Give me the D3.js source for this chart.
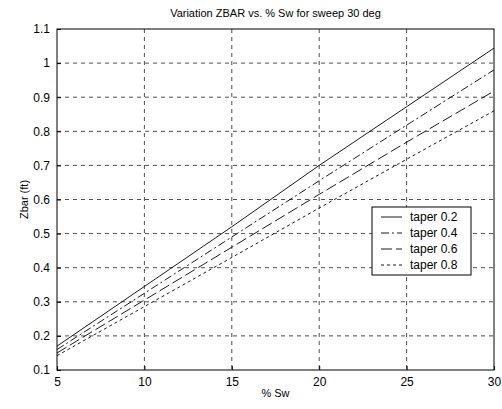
<!DOCTYPE html>
<html>
<head>
<meta charset="utf-8">
<script src="https://cdn.jsdelivr.net/npm/d3@7"></script>
<style>
  body { margin: 0; background: #fff; }
  text { font-family: "Liberation Sans", Arial, sans-serif; fill: #000; }
</style>
</head>
<body>
<svg width="502" height="409"></svg>
<script>
// dữ liệu
const sweepPct = [5, 10, 15, 20, 25, 30];
const taper02 = [0.170, 0.345, 0.520, 0.700, 0.872, 1.044];
const taper04 = [0.160, 0.325, 0.490, 0.655, 0.818, 0.980];
const taper06 = [0.150, 0.305, 0.460, 0.615, 0.768, 0.918];
const taper08 = [0.142, 0.286, 0.430, 0.575, 0.718, 0.860];
const seriesNames = ["taper 0.2", "taper 0.4", "taper 0.6", "taper 0.8"];
const xTicks = [5, 10, 15, 20, 25, 30];
const yTicks = [0.1, 0.2, 0.3, 0.4, 0.5, 0.6, 0.7, 0.8, 0.9, 1, 1.1];

const series = [taper02, taper04, taper06, taper08].map((vals, i) => ({
    name: seriesNames[i],
    values: vals.map((v, j) => ({ x: sweepPct[j], y: v }))
}));
const dashes = [null, "8,3,2,3", "11,4", "3,3"];

const margin = { top: 29, right: 8, bottom: 39, left: 57 };
const width = 502 - margin.left - margin.right;
const height = 409 - margin.top - margin.bottom;

const svg = d3.select("svg")
    .append("g")
    .attr("transform", `translate(${margin.left},${margin.top})`);

const x = d3.scaleLinear().domain([5, 30]).range([0, width]);
const y = d3.scaleLinear().domain([0.1, 1.1]).range([height, 0]);

// lưới
svg.append("g").selectAll("line")
    .data(xTicks.slice(1, -1)).enter().append("line")
    .attr("x1", d => x(d)).attr("x2", d => x(d))
    .attr("y1", 0).attr("y2", height)
    .attr("stroke", "#222").attr("stroke-width", 0.8)
    .attr("stroke-dasharray", "4,4");
svg.append("g").selectAll("line")
    .data(yTicks.slice(1, -1)).enter().append("line")
    .attr("x1", 0).attr("x2", width)
    .attr("y1", d => y(d)).attr("y2", d => y(d))
    .attr("stroke", "#222").attr("stroke-width", 0.8)
    .attr("stroke-dasharray", "4,4");

// trục
const xAxis = svg.append("g")
    .attr("transform", `translate(0,${height})`)
    .call(d3.axisBottom(x).tickValues(xTicks).tickSize(-4).tickPadding(7).tickFormat(d3.format("d")));
const yAxis = svg.append("g")
    .call(d3.axisLeft(y).tickValues(yTicks).tickSize(-4).tickPadding(7).tickFormat(d => d3.format("")(+d.toFixed(1))));
[xAxis, yAxis].forEach(a => {
    a.select(".domain").remove();
    a.selectAll("line").attr("stroke", "#000");
    a.selectAll("text").style("font-size", "12px").style("font-family", "Liberation Sans, Arial, sans-serif");
});

svg.append("rect")
    .attr("width", width).attr("height", height)
    .attr("fill", "none").attr("stroke", "#000").attr("stroke-width", 1);

// đường
const line = d3.line().x(d => x(d.x)).y(d => y(d.y));
svg.selectAll(".series")
    .data(series).enter().append("path")
    .attr("class", "series")
    .attr("d", d => line(d.values))
    .attr("fill", "none")
    .attr("stroke", "#000")
    .attr("stroke-width", 0.9)
    .attr("stroke-dasharray", (d, i) => dashes[i]);

// chú thích
const legend = svg.append("g").attr("transform", `translate(${372 - margin.left},${207 - margin.top})`);
legend.append("rect")
    .attr("width", 99).attr("height", 68)
    .attr("fill", "#fff").attr("stroke", "#000").attr("stroke-width", 1);
series.forEach((s, i) => {
    const ly = 10 + i * 16;
    legend.append("line")
        .attr("x1", 9).attr("x2", 30).attr("y1", ly).attr("y2", ly)
        .attr("stroke", "#000").attr("stroke-width", 0.9)
        .attr("stroke-dasharray", dashes[i]);
    legend.append("text")
        .attr("x", 38).attr("y", ly + 4)
        .style("font-size", "12px")
        .text(s.name);
});

// tiêu đề
svg.append("text")
    .attr("x", width / 2).attr("y", -12)
    .attr("text-anchor", "middle")
    .style("font-size", "11px")
    .text("Variation ZBAR vs. % Sw for sweep 30 deg");

svg.append("text")
    .attr("x", width / 2).attr("y", height + 27)
    .attr("text-anchor", "middle")
    .style("font-size", "11px")
    .text("% Sw");

svg.append("text")
    .attr("transform", `translate(${24 - margin.left},${height / 2}) rotate(-90)`)
    .attr("text-anchor", "middle")
    .attr("dy", "0.35em")
    .style("font-size", "11px")
    .text("Zbar (ft)");
</script>
</body>
</html>
